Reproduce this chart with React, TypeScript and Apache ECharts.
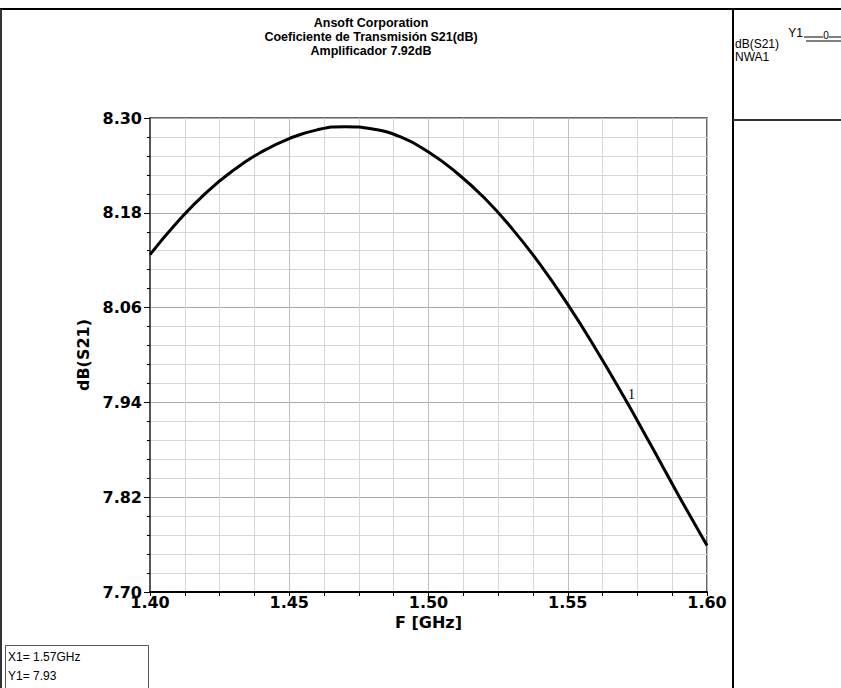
import React, { useEffect, useRef } from "react";
import * as echarts from "echarts";

const freqGHz = [1.40, 1.41, 1.42, 1.43, 1.44, 1.45, 1.46, 1.47, 1.48, 1.49, 1.50, 1.51, 1.52, 1.53, 1.54, 1.55, 1.56, 1.57, 1.58, 1.59, 1.60];
const s21dB = [8.127, 8.169, 8.205, 8.234, 8.257, 8.274, 8.285, 8.289, 8.286, 8.276, 8.257, 8.231, 8.199, 8.160, 8.115, 8.064, 8.008, 7.948, 7.885, 7.821, 7.759];
const titleLines = ["Ansoft Corporation", "Coeficiente de Transmisión S21(dB)", "Amplificador 7.92dB"];
const yMin = 7.70;
const yMax = 8.30;
const yStep = 0.12;
const xMin = 1.40;
const xMax = 1.60;
const xStep = 0.05;
const markerX = 1.5725;
const markerY = 7.94;
const markerInfo = ["X1= 1.57GHz", "Y1= 7.93"];
const legendLines = ["dB(S21)", "NWA1"];

const BOLD = "DejaVu Sans";
const NORM = "Liberation Sans";

export default function App() {
  const ref = useRef<HTMLDivElement>(null);
  useEffect(() => {
    document.body.style.margin = "0";
    const chart = echarts.init(ref.current!, null, { renderer: "svg" });
    const data = freqGHz.map((f, i) => [f, +(s21dB[i] - yMin).toFixed(4)]);
    const option: any = {
      animation: false,
      backgroundColor: "#fff",
      grid: { left: 150, top: 118, width: 557, height: 474, show: true, borderColor: "#333", borderWidth: 1.5, backgroundColor: "transparent" },
      xAxis: {
        type: "value", min: xMin, max: xMax, interval: xStep,
        name: "F [GHz]", nameLocation: "middle", nameGap: 22,
        nameTextStyle: { fontFamily: BOLD, fontWeight: "bold", fontSize: 16, color: "#000" },
        axisLine: { show: true, lineStyle: { color: "#000", width: 2 } },
        axisTick: { show: true, length: 4, lineStyle: { color: "#000", width: 1 } },
        minorTick: { show: true, splitNumber: 4, length: 4, lineStyle: { color: "#000", width: 1 } },
        splitLine: { show: true, lineStyle: { color: "#bdbdbd", width: 1 } },
        minorSplitLine: { show: true, lineStyle: { color: "#d6d6d6", width: 1 } },
        axisLabel: { fontFamily: BOLD, fontWeight: "bold", fontSize: 16, color: "#000", margin: 2, formatter: (v: number) => v.toFixed(2) },
      },
      yAxis: {
        type: "value", min: 0, max: +(yMax - yMin).toFixed(2), interval: yStep,
        name: "dB(S21)", nameLocation: "middle", nameGap: 52, nameRotate: 90,
        nameTextStyle: { fontFamily: BOLD, fontWeight: "bold", fontSize: 16, color: "#000" },
        axisLine: { show: true, lineStyle: { color: "#555", width: 2 } },
        axisTick: { show: true, length: 6, lineStyle: { color: "#000", width: 1 } },
        minorTick: { show: true, splitNumber: 5, length: 3, lineStyle: { color: "#000", width: 1 } },
        splitLine: { show: true, lineStyle: { color: "#a8a8a8", width: 1 } },
        minorSplitLine: { show: true, lineStyle: { color: "#d6d6d6", width: 1 } },
        axisLabel: {
          fontFamily: BOLD, fontWeight: "bold", fontSize: 16, color: "#000", margin: 8,
          verticalAlign: "middle", padding: [0, 0, 11, 0],
          formatter: (v: number) => (v + yMin).toFixed(2),
        },
      },
      series: [
        {
          type: "line", data, smooth: true, showSymbol: false,
          lineStyle: { color: "#000", width: 3 },
          markPoint: {
            symbol: "circle", symbolSize: 1, itemStyle: { color: "rgba(0,0,0,0)" },
            label: { show: true, position: "inside", offset: [1, -8], formatter: "1", fontFamily: "Liberation Serif", fontSize: 14, color: "#000" },
            data: [{ coord: [markerX, +(markerY - yMin).toFixed(4)] }],
          },
        },
      ],
      graphic: [
        { type: "line", shape: { x1: 0, y1: 9, x2: 841, y2: 9 }, style: { stroke: "#000", lineWidth: 2 } },
        { type: "line", shape: { x1: 1, y1: 9, x2: 1, y2: 688 }, style: { stroke: "#333", lineWidth: 2 } },
        { type: "line", shape: { x1: 733, y1: 9, x2: 733, y2: 688 }, style: { stroke: "#000", lineWidth: 2 } },
        { type: "line", shape: { x1: 733, y1: 120, x2: 841, y2: 120 }, style: { stroke: "#333", lineWidth: 2 } },
        ...titleLines.map((t, i) => ({
          type: "text", x: 371, y: 23 + i * 14,
          style: { text: t, fontFamily: NORM, fontWeight: "bold", fontSize: 12.5, fill: "#000", textAlign: "center", textVerticalAlign: "middle" },
        })),
        { type: "text", x: 803, y: 33, style: { text: "Y1", fontFamily: NORM, fontSize: 12, fill: "#000", textAlign: "right", textVerticalAlign: "middle" } },
        { type: "line", shape: { x1: 804, y1: 37, x2: 841, y2: 37 }, style: { stroke: "#000", lineWidth: 1 } },
        { type: "line", shape: { x1: 806, y1: 41, x2: 841, y2: 41 }, style: { stroke: "#000", lineWidth: 1 } },
        { type: "text", x: 826, y: 35, style: { text: "0", fontFamily: NORM, fontSize: 10, fill: "#000", backgroundColor: "#fff", textAlign: "center", textVerticalAlign: "middle" } },
        ...legendLines.map((t, i) => ({
          type: "text", x: 735, y: 44 + i * 13,
          style: { text: t, fontFamily: NORM, fontSize: 12, fill: "#000", textAlign: "left", textVerticalAlign: "middle" },
        })),
        { type: "rect", shape: { x: 5.5, y: 645.5, width: 143, height: 50 }, style: { stroke: "#555", fill: "none", lineWidth: 1 } },
        ...markerInfo.map((t, i) => ({
          type: "text", x: 8, y: 657 + i * 19,
          style: { text: t, fontFamily: NORM, fontSize: 12, fill: "#000", textAlign: "left", textVerticalAlign: "middle" },
        })),
      ],
    };
    chart.setOption(option);
    return () => chart.dispose();
  }, []);
  return <div ref={ref} style={{ width: 841, height: 688 }} />;
}
